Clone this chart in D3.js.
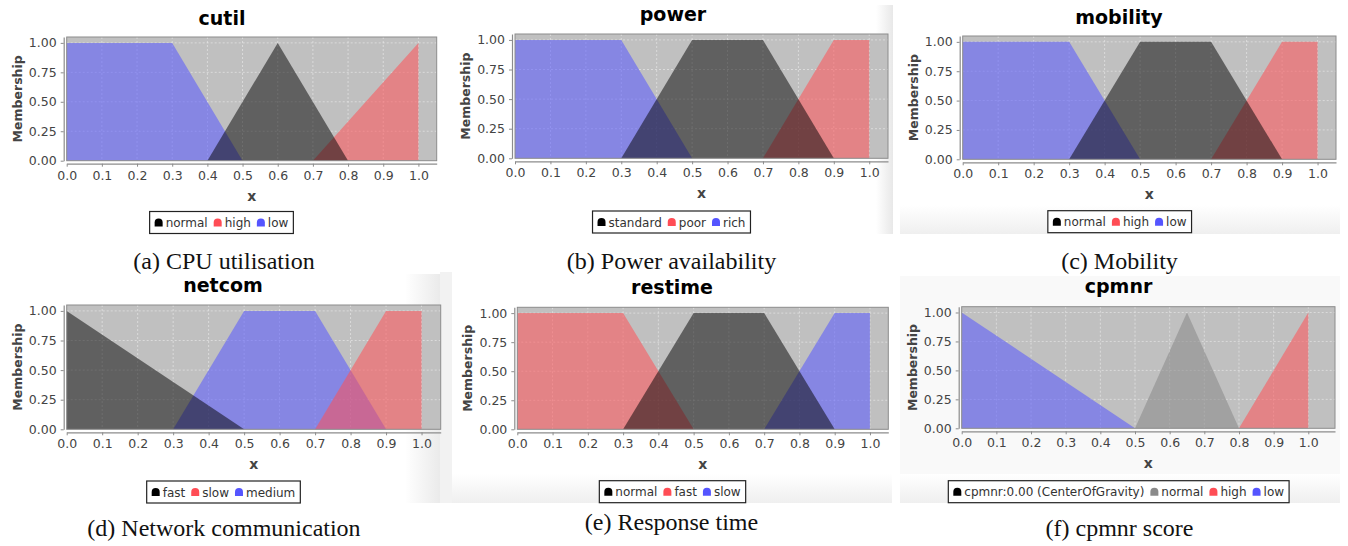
<!DOCTYPE html>
<html>
<head>
<meta charset="utf-8">
<script src="https://cdn.jsdelivr.net/npm/d3@7"></script>
<style>
body { margin: 0; background: #fff; }
svg { display: block; }
</style>
</head>
<body>
<script>
// membership functions, breakpoints as [x, membership]
var xTickValues = [0, 0.1, 0.2, 0.3, 0.4, 0.5, 0.6, 0.7, 0.8, 0.9, 1.0];
var yTickValues = [0, 0.25, 0.5, 0.75, 1.0];

var cutilTerms = ["normal", "high", "low"];
var cutilNormal = [[0.4, 0], [0.6, 1], [0.8, 0]];
var cutilHigh = [[0.7, 0], [1.0, 1]];
var cutilLow = [[0, 1], [0.3, 1], [0.5, 0]];

var powerTerms = ["standard", "poor", "rich"];
var powerStandard = [[0.3, 0], [0.5, 1], [0.7, 1], [0.9, 0]];
var powerPoor = [[0.7, 0], [0.9, 1], [1.0, 1]];
var powerRich = [[0, 1], [0.3, 1], [0.5, 0]];

var mobilityTerms = ["normal", "high", "low"];
var mobilityNormal = [[0.3, 0], [0.5, 1], [0.7, 1], [0.9, 0]];
var mobilityHigh = [[0.7, 0], [0.9, 1], [1.0, 1]];
var mobilityLow = [[0, 1], [0.3, 1], [0.5, 0]];

var netcomTerms = ["fast", "slow", "medium"];
var netcomFast = [[0, 1], [0.5, 0]];
var netcomSlow = [[0.7, 0], [0.9, 1], [1.0, 1]];
var netcomMedium = [[0.3, 0], [0.5, 1], [0.7, 1], [0.9, 0]];

var restimeTerms = ["normal", "fast", "slow"];
var restimeNormal = [[0.3, 0], [0.5, 1], [0.7, 1], [0.9, 0]];
var restimeFast = [[0, 1], [0.3, 1], [0.5, 0]];
var restimeSlow = [[0.7, 0], [0.9, 1], [1.0, 1]];

var cpmnrTerms = ["cpmnr:0.00 (CenterOfGravity)", "normal", "high", "low"];
var cpmnrValue = [];
var cpmnrNormal = [[0.5, 0], [0.65, 1], [0.8, 0]];
var cpmnrHigh = [[0.8, 0], [1.0, 1]];
var cpmnrLow = [[0, 1], [0.5, 0]];

var solid = {black: "#000000", red: "#ff4d55", blue: "#5555ff", gray: "#8a8a8a"};
var fills = {black: "#000000", red: "#ff5055", blue: "#5555ff", gray: "#868686"};
var fillAlpha = {black: 0.5, red: 0.55, blue: 0.55, gray: 0.55};

var charts = [
  {title: "cutil", caption: "(a) CPU utilisation", terms: cutilTerms,
   curves: [cutilNormal, cutilHigh, cutilLow], colors: ["black", "red", "blue"]},
  {title: "power", caption: "(b) Power availability", terms: powerTerms,
   curves: [powerStandard, powerPoor, powerRich], colors: ["black", "red", "blue"]},
  {title: "mobility", caption: "(c) Mobility", terms: mobilityTerms,
   curves: [mobilityNormal, mobilityHigh, mobilityLow], colors: ["black", "red", "blue"]},
  {title: "netcom", caption: "(d) Network communication", terms: netcomTerms,
   curves: [netcomFast, netcomSlow, netcomMedium], colors: ["black", "red", "blue"]},
  {title: "restime", caption: "(e) Response time", terms: restimeTerms,
   curves: [restimeNormal, restimeFast, restimeSlow], colors: ["black", "red", "blue"]},
  {title: "cpmnr", caption: "(f) cpmnr score", terms: cpmnrTerms,
   curves: [cpmnrValue, cpmnrNormal, cpmnrHigh, cpmnrLow], colors: ["black", "gray", "red", "blue"]}
];

// where each chart sits on the page
var frames = [
  {l: 66.7, t: 37, r: 436.7, b: 160.7, xMax: 1.052, tx: 222, ty: 25, lx: 221.5, ly: 211.5, cx: 224, cy: 269},
  {l: 515, t: 34, r: 888, b: 158.3, xMax: 1.053, tx: 673, ty: 20.5, lx: 671.5, ly: 211, cx: 671.5, cy: 269},
  {l: 962.7, t: 36, r: 1336, b: 159.3, xMax: 1.052, tx: 1119, ty: 23.5, lx: 1119.7, ly: 210.7, cx: 1119.5, cy: 269},
  {l: 66.7, t: 305, r: 440.7, b: 429.3, xMax: 1.054, tx: 223, ty: 291.5, lx: 223.5, ly: 481, cx: 224, cy: 536},
  {l: 517.3, t: 307.3, r: 888.3, b: 429.3, xMax: 1.052, tx: 672, ty: 293.5, lx: 672.5, ly: 480.7, cx: 671.5, cy: 530},
  {l: 961.7, t: 306.7, r: 1335, b: 428.3, xMax: 1.077, tx: 1118.5, ty: 292.5, lx: 1118.7, ly: 480.7, cx: 1119.5, cy: 536}
];

var W = 1348, H = 546;
var svg = d3.select("body").append("svg")
    .attr("width", W)
    .attr("height", H);

var defs = svg.append("defs");
var g1 = defs.append("linearGradient").attr("id", "shadeR");
g1.append("stop").attr("offset", "0%").attr("stop-color", "#ffffff");
g1.append("stop").attr("offset", "100%").attr("stop-color", "#e8e8e8");
var g2 = defs.append("linearGradient").attr("id", "shadeV")
    .attr("x1", 0).attr("x2", 0).attr("y1", 0).attr("y2", 1);
g2.append("stop").attr("offset", "0%").attr("stop-color", "#ffffff");
g2.append("stop").attr("offset", "100%").attr("stop-color", "#efefef");

// faint page shading left over from the screenshots
svg.append("rect").attr("x", 876).attr("y", 5).attr("width", 17).attr("height", 229).attr("fill", "url(#shadeR)");
svg.append("rect").attr("x", 405).attr("y", 274).attr("width", 39).attr("height", 229).attr("fill", "url(#shadeR)");
svg.append("rect").attr("x", 900).attr("y", 205).attr("width", 440).attr("height", 29).attr("fill", "url(#shadeV)");
svg.append("rect").attr("x", 452).attr("y", 474).attr("width", 440).attr("height", 29).attr("fill", "url(#shadeV)");
svg.append("rect").attr("x", 440).attr("y", 272).attr("width", 12).attr("height", 231).attr("fill", "#f2f2f2");
svg.append("rect").attr("x", 900).attr("y", 276).attr("width", 440).attr("height", 227).attr("fill", "#f9f9f9");
svg.append("rect").attr("x", 900).attr("y", 474).attr("width", 440).attr("height", 29).attr("fill", "url(#shadeV)");

charts.forEach(function(c, i) {
  var f = frames[i];
  var x = d3.scaleLinear().domain([0, f.xMax]).range([f.l, f.r]);
  var y = d3.scaleLinear().domain([0, 1.05]).range([f.b, f.t]);
  var g = svg.append("g");

  g.append("text")
      .attr("x", f.tx).attr("y", f.ty)
      .attr("text-anchor", "middle")
      .attr("font-family", "DejaVu Sans").attr("font-weight", "bold")
      .attr("font-size", 19)
      .text(c.title);

  g.append("rect")
      .attr("x", f.l).attr("y", f.t)
      .attr("width", f.r - f.l).attr("height", f.b - f.t)
      .attr("fill", "#c0c0c0");

  // dashed grid
  g.selectAll(".gx").data(xTickValues.slice(1)).enter()
      .append("line")
      .attr("x1", function(d) { return x(d); }).attr("x2", function(d) { return x(d); })
      .attr("y1", f.t).attr("y2", f.b)
      .attr("stroke", "#ececec").attr("stroke-width", 0.6)
      .attr("stroke-dasharray", "2,2");
  g.selectAll(".gy").data(yTickValues.slice(1)).enter()
      .append("line")
      .attr("x1", f.l).attr("x2", f.r)
      .attr("y1", function(d) { return y(d); }).attr("y2", function(d) { return y(d); })
      .attr("stroke", "#ececec").attr("stroke-width", 0.6)
      .attr("stroke-dasharray", "2,2");

  var area = d3.area()
      .x(function(d) { return x(d[0]); })
      .y0(y(0))
      .y1(function(d) { return y(d[1]); });

  // first series is painted last, on top
  for (var k = c.curves.length - 1; k >= 0; k--) {
    if (c.curves[k].length === 0) continue;
    g.append("path")
        .attr("d", area(c.curves[k]))
        .attr("fill", fills[c.colors[k]])
        .attr("fill-opacity", fillAlpha[c.colors[k]]);
  }

  g.append("rect")
      .attr("x", f.l).attr("y", f.t)
      .attr("width", f.r - f.l).attr("height", f.b - f.t)
      .attr("fill", "none").attr("stroke", "#8c8c8c").attr("stroke-width", 1);

  var xAxis = d3.axisBottom(x).tickValues(xTickValues)
      .tickFormat(d3.format(".1f")).tickSize(3).tickSizeOuter(0).tickPadding(4);
  var yAxis = d3.axisLeft(y).tickValues(yTickValues)
      .tickFormat(d3.format(".2f")).tickSize(3).tickSizeOuter(0).tickPadding(4);

  var gx = g.append("g")
      .attr("transform", "translate(0," + (f.b + 3) + ")")
      .call(xAxis);
  var gy = g.append("g")
      .attr("transform", "translate(" + (f.l - 3) + ",0)")
      .call(yAxis);
  [gx, gy].forEach(function(a) {
    a.select(".domain").attr("stroke", "#8c8c8c").attr("stroke-width", 1.2);
    a.selectAll(".tick line").attr("stroke", "#8c8c8c");
    a.selectAll("text")
        .attr("font-family", "DejaVu Sans").attr("font-size", 12.5)
        .attr("fill", "#444");
  });

  g.append("text")
      .attr("x", (f.l + f.r) / 2).attr("y", f.b + 40)
      .attr("text-anchor", "middle")
      .attr("font-family", "DejaVu Sans").attr("font-weight", "bold")
      .attr("font-size", 14).attr("fill", "#444")
      .text("x");

  g.append("text")
      .attr("transform", "translate(" + (f.l - 45) + "," + ((f.t + f.b) / 2) + ") rotate(-90)")
      .attr("text-anchor", "middle")
      .attr("font-family", "DejaVu Sans").attr("font-weight", "bold")
      .attr("font-size", 12.5).attr("fill", "#444")
      .text("Membership");

  // legend
  var lg = g.append("g");
  var box = lg.append("rect")
      .attr("y", f.ly).attr("height", 22)
      .attr("fill", "#fff").attr("stroke", "#222").attr("stroke-width", 1.2);
  var cur = 0;
  var items = lg.append("g");
  c.terms.forEach(function(name, k) {
    var s = cur;
    items.append("path")
        .attr("d", "M" + s + "," + 8 + " L" + s + ",4 A4,4 0 0 1 " + (s + 8) + ",4 L" + (s + 8) + ",8 Z")
        .attr("transform", "translate(0," + (f.ly + 7) + ")")
        .attr("fill", solid[c.colors[k]]);
    var t = items.append("text")
        .attr("x", s + 11).attr("y", f.ly + 15.5)
        .attr("font-family", "DejaVu Sans").attr("font-size", 12)
        .attr("fill", "#333")
        .text(name);
    cur = s + 11 + t.node().getComputedTextLength() + 6;
  });
  var inner = cur - 6;
  var bw = inner + 10;
  var bx = f.lx - bw / 2;
  box.attr("x", bx).attr("width", bw);
  items.attr("transform", "translate(" + (bx + 5) + ",0)");

  g.append("text")
      .attr("x", f.cx).attr("y", f.cy)
      .attr("text-anchor", "middle")
      .attr("font-family", "Liberation Serif").attr("font-size", 24)
      .attr("fill", "#111")
      .text(c.caption);
});
</script>
</body>
</html>
